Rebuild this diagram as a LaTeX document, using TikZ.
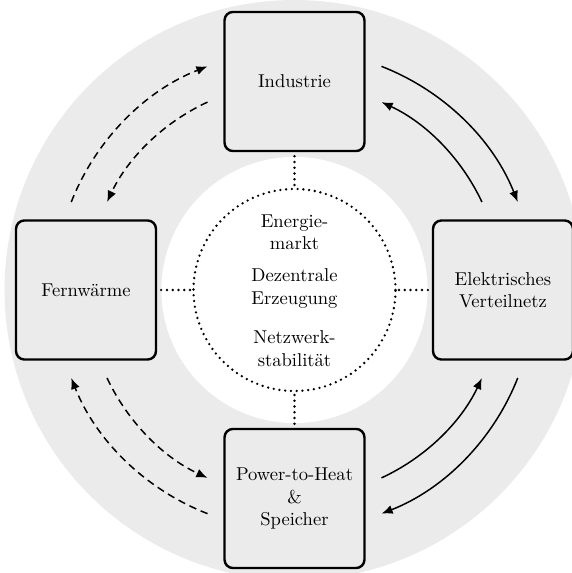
\documentclass[tikz,border=0pt]{standalone}
\usetikzlibrary{arrows.meta}
\definecolor{ringgray}{HTML}{EBEBEB}
\begin{document}
\begin{tikzpicture}[x=0.538pt,y=0.538pt,
  box/.style={draw=black, line width=1.3pt, rounded corners=4.5pt, fill=ringgray,
    minimum width=75.3pt, minimum height=74.8pt, align=center, inner sep=2pt},
  dotline/.style={line width=1.4pt, dash pattern=on 0pt off 3.1pt, line cap=round},
  flow/.style={line width=0.8pt, -{Latex[length=6pt,width=4.8pt]}},
  dflow/.style={flow, dash pattern=on 4pt off 2.6pt},
  ctext/.style={align=center, inner sep=1pt}]
\useasboundingbox (-294.5,-283) rectangle (276.5,290);
% background rings
\fill[ringgray] (0,0) circle[radius=156pt];
\fill[white] (0,0) circle[radius=71.6pt];
% boxes
\node[box] (ind) at (0,208.5) {Industrie};
\node[box] (fw) at (-208.5,0) {Fernwärme};
\node[box] (ev) at (208.5,0) {Elektrisches\\Verteilnetz};
\node[box] (pth) at (0,-208.5) {Power-to-Heat\\\&\\Speicher};
% centre circle
\node[circle, draw, dotline, minimum size=108.7pt] (mc) at (0,0) {};
\node[ctext] (em) at (0,57.5) {Energie-\\markt};
\node[ctext] (dz) at (0,1.5) {Dezentrale\\Erzeugung};
\node[ctext] (nw) at (0,-58.5) {Netzwerk-\\stabilität};
% dotted links
\draw[dotline] (ind.south) ++(0,-4) -- (mc.north);
\draw[dotline] (pth.north) ++(0,4) -- (mc.south);
\draw[dotline] (fw.east) ++(4,0) -- (mc.west);
\draw[dotline] (ev.west) ++(-4,0) -- (mc.east);
% arc end points
\coordinate (tro1) at (68.75:129.1pt);
\coordinate (tri1) at (25.16:111.4pt);
\coordinate (bro1) at (-21.5:129.1pt);
\coordinate (bri1) at (-65.15:111.4pt);
\coordinate (tlo1) at (158.5:129.1pt);
\coordinate (tli1) at (114.85:111.4pt);
\coordinate (blo1) at (248.75:129.1pt);
\coordinate (bli1) at (205.16:111.4pt);
% solid arrows (right)
\draw[flow] (tro1) arc[start angle=68.75, end angle=21.5, radius=129.1pt];
\draw[flow] (tri1) arc[start angle=25.16, end angle=65.15, radius=111.4pt];
\draw[flow] (bri1) arc[start angle=-65.15, end angle=-25.16, radius=111.4pt];
\draw[flow] (bro1) arc[start angle=-21.5, end angle=-68.75, radius=129.1pt];
% dashed arrows (left)
\draw[dflow] (tlo1) arc[start angle=158.5, end angle=111.25, radius=129.1pt];
\draw[dflow] (tli1) arc[start angle=114.85, end angle=154.84, radius=111.4pt];
\draw[dflow] (bli1) arc[start angle=205.16, end angle=245.15, radius=111.4pt];
\draw[dflow] (blo1) arc[start angle=248.75, end angle=201.5, radius=129.1pt];
\end{tikzpicture}
\end{document}
